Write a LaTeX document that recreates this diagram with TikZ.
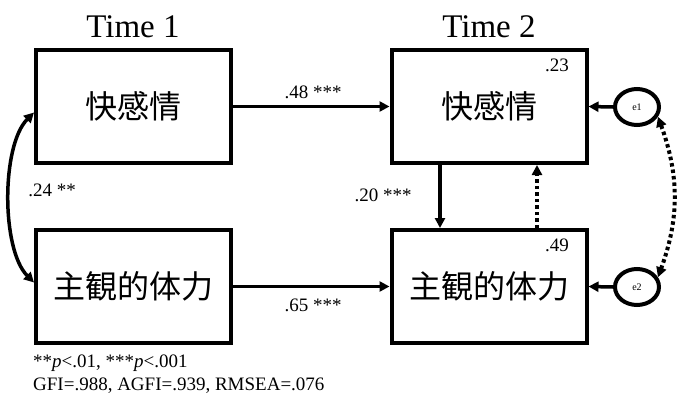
\documentclass[tikz,border=0pt]{standalone}
\usepackage{fontspec}
\setmainfont{Liberation Serif}
\newfontfamily\cjk{Noto Sans CJK JP}
\usetikzlibrary{arrows.meta,shapes.geometric,calc}
\begin{document}
\begin{tikzpicture}[x=1pt,y=1pt,
  varbox/.style={draw,line width=4pt,minimum width=195pt,minimum height=113pt,inner sep=0pt,font=\cjk\fontsize{32}{36}\selectfont},
  errnode/.style={draw,ellipse,line width=4pt,minimum width=44pt,minimum height=36pt,inner sep=0pt,font=\fontsize{10}{12}\selectfont},
  arr/.style={line width=3.5pt,-{Triangle[length=10pt,width=10pt]}},
  dotarr/.style={line width=4pt,dash pattern=on 3.5pt off 3pt,-{Triangle[length=10pt,width=10pt]}},
  lbl/.style={font=\fontsize{19}{21}\selectfont,inner sep=0pt},
  ttl/.style={font=\fontsize{33}{36}\selectfont,inner sep=0pt}
]
\useasboundingbox (0,0) rectangle (693,-404);
\node[ttl] (t1) at (133,-27) {Time 1};
\node[ttl] (t2) at (489,-27) {Time 2};
\node[varbox] (ul) at (133.5,-106.5) {快感情};
\node[varbox] (ll) at (133.5,-286.5) {主観的体力};
\node[varbox] (ur) at (489,-106.5) {快感情};
\node[varbox] (lr) at (489,-286.5) {主観的体力};
\node[lbl] (r1) at (557,-65) {.23};
\node[lbl] (r2) at (557,-245) {.49};
\node[errnode] (e1) at (637,-107) {e1};
\node[errnode] (e2) at (637,-287) {e2};
\draw[arr] (ul.east) -- (ur.west);
\draw[arr] (ll.east) -- (lr.west);
\node[lbl] (l48) at (313,-92) {.48 ***};
\node[lbl] (l65) at (313,-305) {.65 ***};
\draw[arr] ($(ur.south)+(-49,0)$) -- ($(lr.north)+(-49,0)$);
\node[lbl] (l20) at (383,-195) {.20 ***};
\draw[dotarr] ($(lr.north)+(48,0)$) -- ($(ur.south)+(48,0)$);
\draw[arr] (e1.west) -- (ur.east);
\draw[arr] (e2.west) -- (lr.east);
\draw[dotarr,{Triangle[length=10pt,width=10pt]}-{Triangle[length=10pt,width=10pt]}] (e1.-25) to[out=-70,in=70] (e2.25);
\draw[arr,{Triangle[length=10pt,width=10pt]}-{Triangle[length=10pt,width=10pt]}] ($(ul.west)+(0,-6)$) to[out=225,in=135,looseness=0.7] ($(ll.west)+(0,4)$);
\node[lbl] (l24) at (52,-190) {.24 **};
\node[lbl,anchor=west] (n1) at (33,-363) {**\textit{p}<.01, ***\textit{p}<.001};
\node[lbl,anchor=west] (n2) at (33,-386) {GFI=.988, AGFI=.939, RMSEA=.076};
\end{tikzpicture}
\end{document}
